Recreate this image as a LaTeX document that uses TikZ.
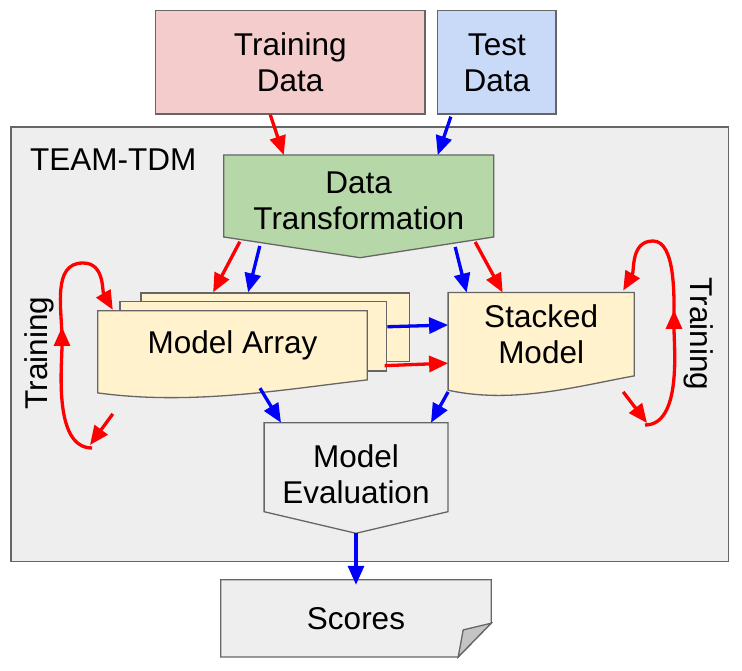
\documentclass[tikz,border=0pt]{standalone}
\usepackage{fontspec}
\setmainfont{Liberation Sans}
\usetikzlibrary{arrows.meta,calc,backgrounds}
\definecolor{tdpink}{HTML}{F4CCCC}
\definecolor{tdblue}{HTML}{C9DAF8}
\definecolor{tdgreen}{HTML}{B6D7A8}
\definecolor{tdyellow}{HTML}{FFF2CC}
\definecolor{tdgrey}{HTML}{EEEEEE}
\definecolor{tdline}{HTML}{666666}
\definecolor{tdfold}{HTML}{C4C4C4}
\definecolor{tdred}{HTML}{FF0000}
\definecolor{tdbl}{HTML}{0000FF}
\tikzset{
  >={Triangle[length=19pt,width=16pt]},
  font=\fontsize{31.5}{36}\selectfont,
  box/.style={draw=tdline,line width=1.3pt,inner sep=0pt,align=center},
  txt/.style={inner sep=0pt,align=center},
  outline/.style={draw=tdline,line width=1.3pt},
  trainflow/.style={->,line width=3.3pt,draw=tdred},
  testflow/.style={->,line width=3.3pt,draw=tdbl},
}

\begin{document}
\begin{tikzpicture}[x=1pt,y=1pt]
  \useasboundingbox (0,0) rectangle (742,670);

  % inputs
  \node[box,fill=tdpink,minimum width=269.5,minimum height=103.3] (train) at (290.25,607.65) {Training\\Data};
  \node[box,fill=tdblue,minimum width=118.3,minimum height=103.3] (test) at (496.85,607.65) {Test\\Data};

  % text of the inner steps (outlines are drawn behind)
  \node[txt,anchor=west] (teamlbl) at (30,510) {TEAM-TDM};
  \node[txt,minimum width=269.5,minimum height=92,anchor=north] (trans) at (358.75,515) {Data\\Transformation};
  \node[txt,minimum width=269,minimum height=68.7] (arr) at (232.5,324.65) {Model Array};
  \node[txt,minimum width=185.7,minimum height=83] (stacked) at (541.15,335.8) {Stacked\\Model};
  \node[txt,minimum width=183.4,minimum height=102.6,anchor=north] (eval) at (356,247.3) {Model\\Evaluation};
  \node[txt,minimum width=270,minimum height=76.7] (scores) at (356,51.65) {Scores};
  \node[txt,rotate=90] (trainL) at (39,317) {Training};
  \node[txt,rotate=-90] (trainR) at (699,336) {Training};

  \begin{scope}[on background layer]
    \node[box,fill=tdgrey,minimum width=717.5,minimum height=434.5] (team) at (369.75,325.75) {};
    % sheets behind the model array
    \node[box,fill=tdyellow,minimum width=268.3,minimum height=68.7] (arrback) at (275.15,342.65) {};
    \node[box,fill=tdyellow,minimum width=266.7,minimum height=69.3] (arrmid) at (253.35,333.65) {};
    % off-page shapes
    \draw[outline,fill=tdgreen] (trans.north west) -- (trans.north east)
      -- ($(trans.north east)+(0,-82)$) -- ($(trans.north)+(1.25,-102.7)$)
      -- ($(trans.north west)+(0,-82)$) -- cycle;
    \draw[outline,fill=tdgrey] (eval.north west) -- (eval.north east)
      -- ($(eval.north east)+(0,-89)$) -- ($(eval.north)+(0,-110.6)$)
      -- ($(eval.north west)+(0,-89)$) -- cycle;
    % document shapes
    \draw[outline,fill=tdyellow] (arr.north west) -- (arr.north east) -- (arr.south east)
      .. controls ($(arr.south east)+(-80.7,-9.1)$) and ($(arr.south east)+(-174.9,-26)$)
      .. ($(arr.south west)+(0,-13)$) -- cycle;
    \draw[outline,fill=tdyellow] (stacked.north west) -- (stacked.north east) -- (stacked.south east)
      .. controls ($(stacked.south east)+(-55.7,-10)$) and ($(stacked.south east)+(-120.7,-28.6)$)
      .. ($(stacked.south west)+(0,-14.3)$) -- cycle;
    \draw[outline,fill=tdgrey] (scores.north west) -- (scores.north east)
      -- ($(scores.south east)+(0,33.7)$) -- ($(scores.south east)+(-33,0)$)
      -- (scores.south west) -- cycle;
    \draw[outline,fill=tdfold] ($(scores.south east)+(0,33.7)$) -- ($(scores.south east)+(-33,0)$)
      -- ($(scores.south east)+(-28,27)$) -- cycle;
  \end{scope}

  % data into the transformation
  \draw[trainflow] ($(train.south)+(-20,0)$) -- ($(trans.north)+(-75,0)$);
  \draw[testflow] ($(test.south)+(-46,-2)$) -- ($(trans.north)+(79,0)$);
  % transformation to both models
  \draw[trainflow] ($(trans.north west)+(16,-86.7)$) -- ($(arrback.north)+(-62,0)$);
  \draw[testflow] ($(trans.north west)+(36,-91)$) -- ($(arrback.north)+(-27,0)$);
  \draw[testflow] ($(trans.north east)+(-38.5,-92)$) -- ($(stacked.north)+(-74.5,0)$);
  \draw[trainflow] ($(trans.north east)+(-18.5,-87)$) -- ($(stacked.north)+(-38.5,0)$);
  % array feeds the stacked model
  \draw[testflow] ($(arrmid.east)+(0,9.6)$) -- ($(stacked.west)+(0,9.2)$);
  \draw[trainflow] ($(arrmid.south east)+(-2.7,6)$) -- ($(stacked.west)+(0,-29)$);
  % both models to evaluation
  \draw[testflow] ($(arr.south)+(27.5,-8.3)$) -- ($(eval.north)+(-75,0)$);
  \draw[testflow] ($(stacked.south west)+(0,-16)$) -- ($(eval.north)+(75,0)$);
  \draw[testflow] ($(eval.north)+(0,-110.6)$) -- ($(scores.north)+(0,-5)$);

  % training loop, model array
  \draw[trainflow] ($(arr.south west)+(15,-34)$) -- (90,225);
  \draw[trainflow] (92,222) to[out=180,in=-90,looseness=0.8] (62,343);
  \draw[trainflow] (62,330) to[out=90,in=180] (83,407) to[out=0,in=120] ($(arr.north west)+(15,1)$);

  % training loop, stacked model
  \draw[trainflow] ($(stacked.south east)+(-11,-16)$) -- (647,247);
  \draw[trainflow] (645,245) to[out=0,in=-90,looseness=0.8] (674,360);
  \draw[trainflow] (674,346) to[out=90,in=0,looseness=0.7] (653,429) to[out=180,in=60] ($(stacked.north east)+(-11,2)$);
\end{tikzpicture}
\end{document}
